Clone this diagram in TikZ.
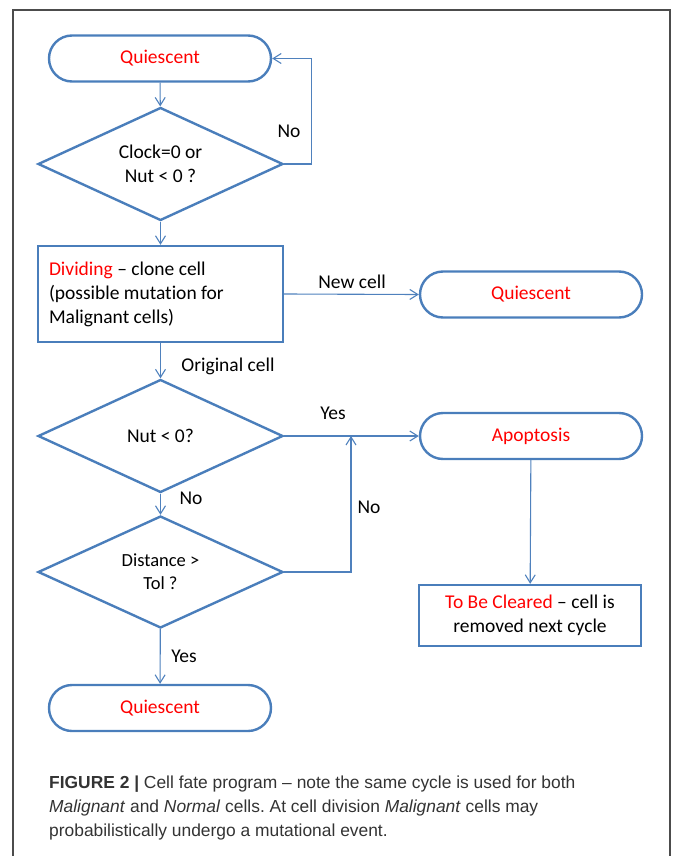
\documentclass[tikz,border=0pt]{standalone}
\usepackage{fontspec}
\setmainfont{Carlito}[Ligatures=NoCommon]
\newfontfamily\capfont[Ligatures=TeX]{Liberation Sans}
\usetikzlibrary{shapes.geometric,arrows.meta}
\definecolor{fblue}{HTML}{4A7EBB}
\definecolor{lblue}{HTML}{4F81BD}
\definecolor{capgray}{HTML}{333333}
\frenchspacing
\begin{document}
\begin{tikzpicture}[x=1pt,y=-1pt,
  every node/.style={font=\fontsize{19.5}{24}\selectfont},
  term/.style={draw=fblue,line width=2.4pt,rectangle,rounded corners=23pt,minimum width=222pt,minimum height=46pt,text=red,inner sep=0pt},
  decision/.style={draw=fblue,line width=2.4pt,diamond,aspect=2.17,minimum width=245pt,minimum height=113pt,inner sep=0pt,align=center},
  procbox/.style={draw=fblue,line width=2.4pt,rectangle,inner sep=0pt,align=center},
  conn/.style={draw=lblue,line width=1.1pt,-{Straight Barb[length=8pt,width=10pt]}},
  lbl/.style={inner sep=0pt},
  capline/.style={anchor=base west,inner sep=0pt,font=\capfont\fontsize{17.4}{24}\selectfont,text=capgray}
]
\useasboundingbox (0,0) rectangle (673,856);
% frame
\draw[black!70,line width=1.3pt] (13,856) -- (13,10) -- (670,10) -- (670,856);

% nodes
\node[term] (q1) at (160,58.5) {Quiescent};
\node[decision] (d1) at (160.5,164) {Clock=0 or\\Nut {<} 0 ?};
\node[procbox,minimum width=245pt,minimum height=96pt,text width=223pt,align=flush left] (div) at (160.5,294) {\textcolor{red}{Dividing} – clone cell\\(possible mutation for\\Malignant cells)};
\node[term] (q2) at (531,294.5) {Quiescent};
\node[decision] (d2) at (160.5,436) {Nut {<} 0?};
\node[term] (apo) at (531,436) {Apoptosis};
\node[decision,minimum height=112pt,font=\fontsize{18.5}{23}\selectfont] (d3) at (160.5,572) {Distance {>}\\Tol ?};
\node[term] (q3) at (160,708) {Quiescent};
\node[procbox,minimum width=222pt,minimum height=61pt] (tbc) at (530,615.5) {\textcolor{red}{To Be Cleared} – cell is\\removed next cycle};
\coordinate (jn) at (351,436);

% connectors
\draw[conn] (q1) -- (d1);
\draw[conn] (d1.east) -- ++(27,0) |- (q1.east);
\draw[conn] (d1) -- (div);
\draw[conn] (div.east) -- (q2.west);
\draw[conn] (div) -- (d2);
\draw[conn] (d2.east) -- (apo.west);
\draw[conn] (d2) -- (d3);
\draw[conn] (d3.east) -| (jn);
\draw[conn] (d3) -- (q3);
\draw[conn] (apo) -- (tbc);

% labels
\node[lbl] (lno1) at (289,131) {No};
\node[lbl] (lnew) at (352,282) {New cell};
\node[lbl] (lorig) at (228,366) {Original cell};
\node[lbl] (lyes1) at (333,413) {Yes};
\node[lbl] (lno2) at (191,498) {No};
\node[lbl] (lno3) at (369,507) {No};
\node[lbl] (lyes2) at (184,656) {Yes};

% caption
\node[capline] (c1) at (49,788) {\textbf{FIGURE 2 |} Cell fate program – note the same cycle is used for both};
\node[capline] (c2) at (49,812) {\textit{Malignant} and \textit{Normal} cells. At cell division \textit{Malignant} cells may};
\node[capline] (c3) at (49,836) {probabilistically undergo a mutational event.};
\end{tikzpicture}
\end{document}
